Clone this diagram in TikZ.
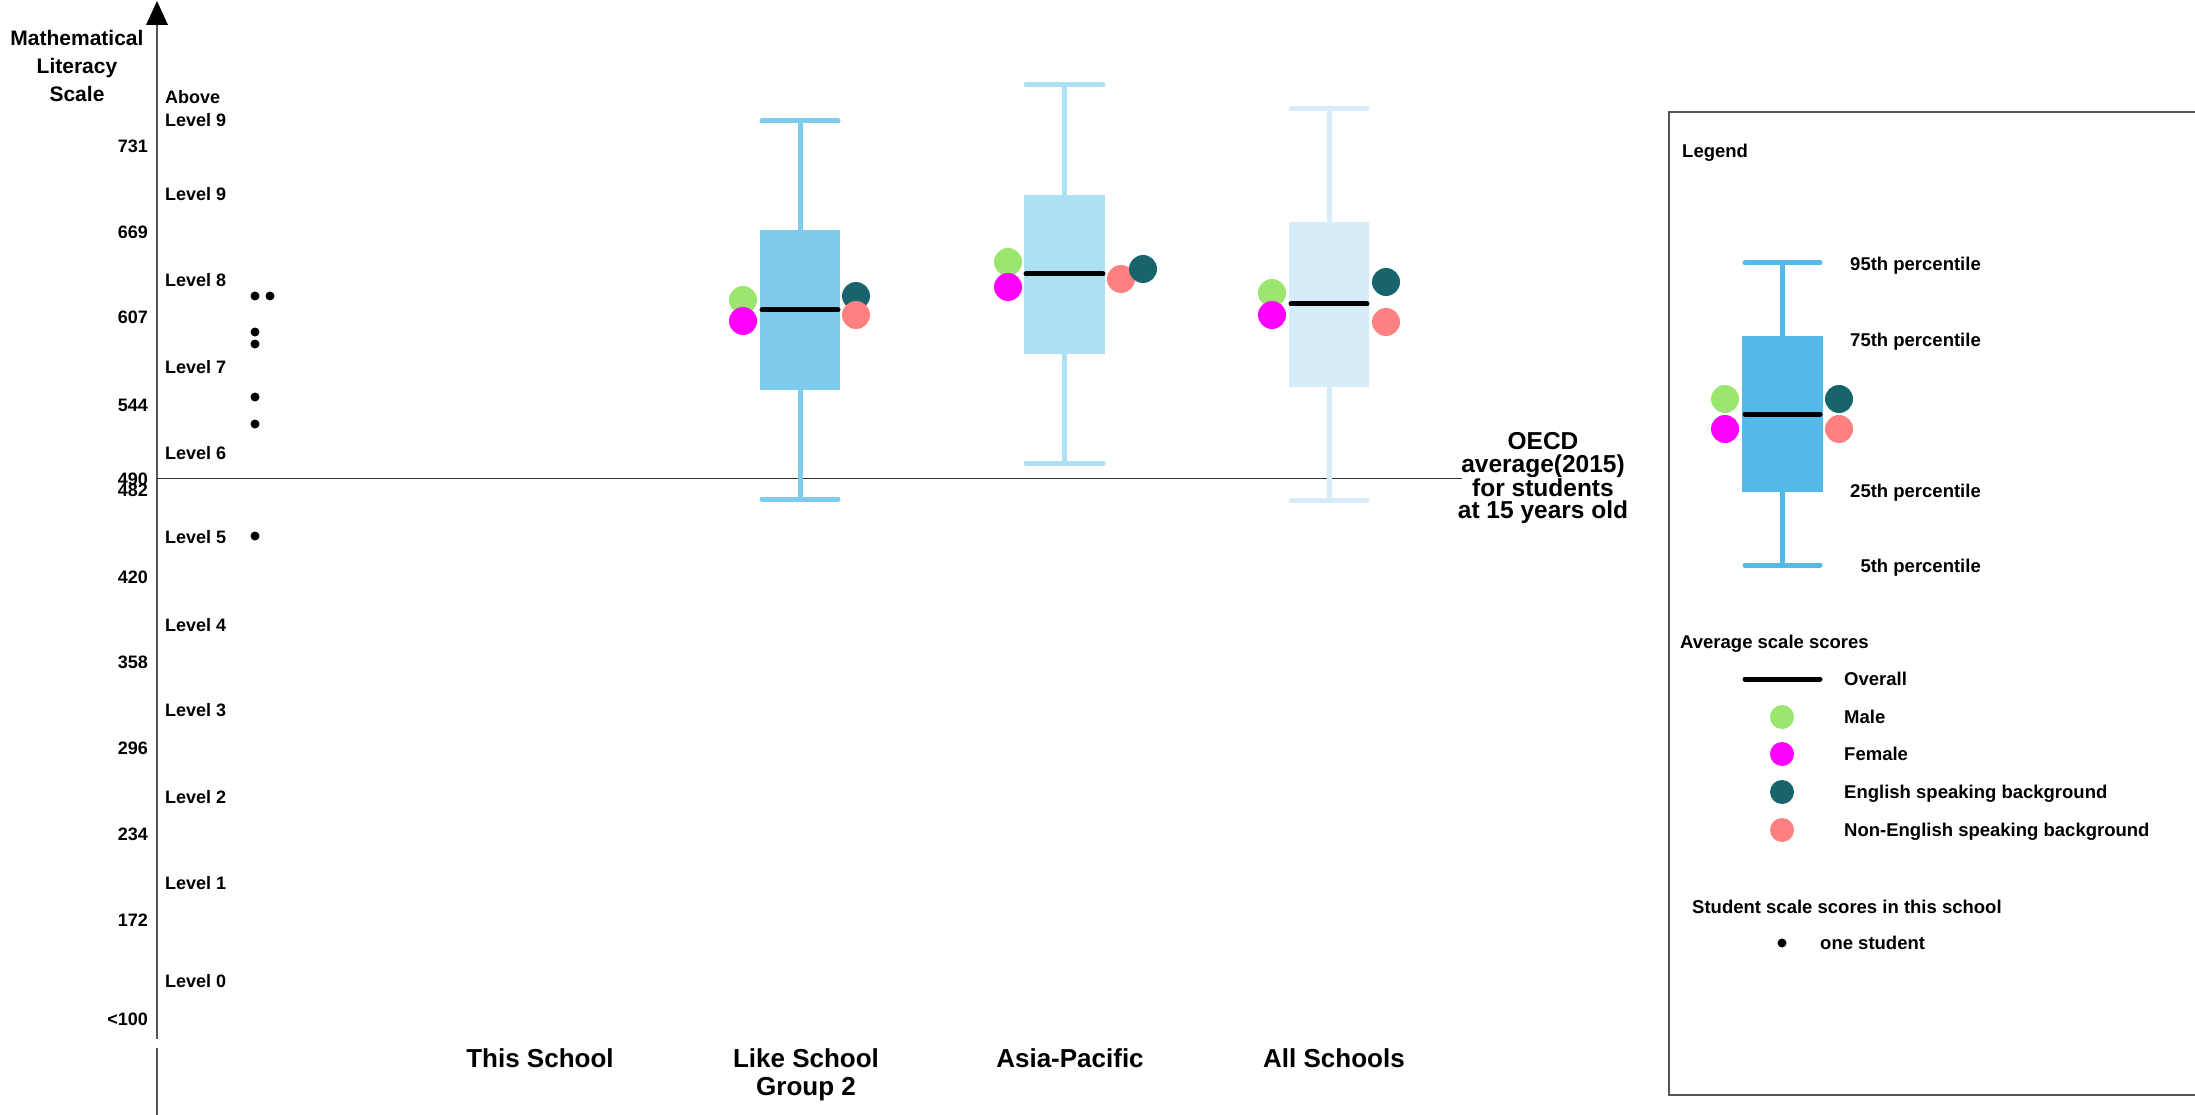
\documentclass[tikz,border=0pt]{standalone}
\usepackage{fontspec}
\setmainfont{Liberation Sans}
\definecolor{likec}{HTML}{7ECBEE}
\definecolor{asiac}{HTML}{ADDFF5}
\definecolor{allc}{HTML}{D6ECF9}
\definecolor{legc}{HTML}{53B9E8}
\definecolor{malec}{HTML}{9AE66E}
\definecolor{femc}{HTML}{FF00FF}
\definecolor{engc}{HTML}{18646B}
\definecolor{nengc}{HTML}{FF8080}
\definecolor{axc}{HTML}{555555}
\begin{document}
\begin{tikzpicture}[x=1pt,y=-1pt,
  axlbl/.style={font=\fontsize{18}{20}\selectfont\bfseries, inner sep=0pt, text height=13pt, text depth=0pt},
  leglbl/.style={font=\fontsize{18.5}{20}\selectfont\bfseries, inner sep=0pt, text height=13.2pt, text depth=0pt},
  catlbl/.style={font=\fontsize{26}{28}\selectfont\bfseries, inner sep=0pt, align=center},
  axisline/.style={draw=axc, line width=2pt},
  whisk/.style={line width=5pt},
  capline/.style={line width=5pt, line cap=round},
  medline/.style={line width=5pt, line cap=round, black},
  dotc/.style={fill=black}
]
\useasboundingbox (0,0) rectangle (2195,1115);
% axis
\coordinate (axtop) at (157,24);
\coordinate (axbot) at (157,1039);
\coordinate (ax2top) at (157,1048);
\coordinate (ax2bot) at (157,1115);
\draw[axisline] (axtop) -- (axbot);
\draw[axisline] (ax2top) -- (ax2bot);
\fill[black] (146,25) -- (157,1) -- (168,25) -- cycle;
\node[font=\fontsize{21}{28}\selectfont\bfseries, inner sep=0pt, align=center, anchor=north] (title) at (77,30) {Mathematical\\Literacy\\Scale};
% tick values
\node[axlbl, anchor=east] (t731) at (148,146) {731};
\node[axlbl, anchor=east] (t669) at (148,232) {669};
\node[axlbl, anchor=east] (t607) at (148,317) {607};
\node[axlbl, anchor=east] (t544) at (148,405) {544};
\node[axlbl, anchor=east] (t490) at (148,479) {490};
\node[axlbl, anchor=east] (t482) at (148,490) {482};
\node[axlbl, anchor=east] (t420) at (148,577) {420};
\node[axlbl, anchor=east] (t358) at (148,662) {358};
\node[axlbl, anchor=east] (t296) at (148,748) {296};
\node[axlbl, anchor=east] (t234) at (148,834) {234};
\node[axlbl, anchor=east] (t172) at (148,920) {172};
\node[axlbl, anchor=east] (t100) at (148,1019) {<100};
% levels
\node[font=\fontsize{18}{23}\selectfont\bfseries, inner sep=0pt, align=left, anchor=north west] (l10) at (165,90) {Above\\Level 9};
\node[axlbl, anchor=west] (l9) at (165,194) {Level 9};
\node[axlbl, anchor=west] (l8) at (165,280) {Level 8};
\node[axlbl, anchor=west] (l7) at (165,367) {Level 7};
\node[axlbl, anchor=west] (l6) at (165,453) {Level 6};
\node[axlbl, anchor=west] (l5) at (165,537) {Level 5};
\node[axlbl, anchor=west] (l4) at (165,625) {Level 4};
\node[axlbl, anchor=west] (l3) at (165,710) {Level 3};
\node[axlbl, anchor=west] (l2) at (165,797) {Level 2};
\node[axlbl, anchor=west] (l1) at (165,883) {Level 1};
\node[axlbl, anchor=west] (l0) at (165,981) {Level 0};
% OECD line
\coordinate (oecdA) at (157,478.5);
\coordinate (oecdB) at (1462,478.5);
\draw[draw=black!80, line width=1.5pt] (oecdA) -- (oecdB);
\node[font=\fontsize{24.5}{22.5}\selectfont\bfseries, inner sep=0pt, align=center, anchor=north] (oecd) at (1543,432.5) {OECD\\average(2015)\\for students\\at 15 years old};
% student dots
\fill[dotc] (255,296) circle (4.5);
\fill[dotc] (270,296) circle (4.5);
\fill[dotc] (255,332) circle (4.5);
\fill[dotc] (255,344) circle (4.5);
\fill[dotc] (255,397) circle (4.5);
\fill[dotc] (255,424) circle (4.5);
\fill[dotc] (255,536) circle (4.5);
% Like School Group 2
\draw[whisk, likec] (800,121) -- (800,499);
\draw[capline, likec] (762,121) -- (838,121);
\draw[capline, likec] (762,499) -- (838,499);
\fill[likec] (760,230) rectangle (840,390);
\draw[medline] (762,310) -- (838,310);
\fill[malec] (743,300) circle (14);
\fill[femc] (743,321) circle (14);
\fill[engc] (856,296) circle (14);
\fill[nengc] (856,315) circle (14);
% Asia-Pacific
\draw[whisk, asiac] (1064,85) -- (1064,463);
\draw[capline, asiac] (1026,85) -- (1103,85);
\draw[capline, asiac] (1026,463) -- (1103,463);
\fill[asiac] (1024,195) rectangle (1105,354);
\draw[medline] (1026,274) -- (1103,274);
\fill[malec] (1008,262) circle (14);
\fill[femc] (1008,287) circle (14);
\fill[nengc] (1121,279) circle (14);
\fill[engc] (1143,269) circle (14);
% All Schools
\draw[whisk, allc] (1329,109) -- (1329,500);
\draw[capline, allc] (1291,109) -- (1367,109);
\draw[capline, allc] (1291,500) -- (1367,500);
\fill[allc] (1289,222) rectangle (1369,387);
\draw[medline] (1291,304) -- (1367,304);
\fill[malec] (1272,293) circle (14);
\fill[femc] (1272,315) circle (14);
\fill[engc] (1386,282) circle (14);
\fill[nengc] (1386,322) circle (14);
% category labels
\node[catlbl, anchor=base] (cThis) at (540,1067) {This School};
\node[catlbl, anchor=north] (cLike) at (806,1048) {Like School\\Group 2};
\node[catlbl, anchor=base] (cAsia) at (1070,1067) {Asia-Pacific};
\node[catlbl, anchor=base] (cAll) at (1334,1067) {All Schools};
% legend
\draw[draw=axc, line width=2pt] (2230,112) -- (1669,112) -- (1669,1095) -- (2230,1095);
\node[leglbl, anchor=west] (legT) at (1682,151) {Legend};
\draw[whisk, legc] (1782,263) -- (1782,565);
\draw[capline, legc] (1745,263) -- (1820,263);
\draw[capline, legc] (1745,565) -- (1820,565);
\fill[legc] (1742,336) rectangle (1823,492);
\draw[medline] (1745,414) -- (1820,414);
\fill[malec] (1725,399) circle (14);
\fill[femc] (1725,429) circle (14);
\fill[engc] (1839,399) circle (14);
\fill[nengc] (1839,429) circle (14);
\node[leglbl, anchor=east] (p95) at (1981,264) {95th percentile};
\node[leglbl, anchor=east] (p75) at (1981,340) {75th percentile};
\node[leglbl, anchor=east] (p25) at (1981,491) {25th percentile};
\node[leglbl, anchor=east] (p5) at (1981,566) {5th percentile};
\node[leglbl, anchor=west] (avgT) at (1680,642) {Average scale scores};
\draw[medline] (1745,679) -- (1820,679);
\node[leglbl, anchor=west] (lOver) at (1844,679) {Overall};
\fill[malec] (1782,717) circle (12);
\node[leglbl, anchor=west] (lMale) at (1844,717) {Male};
\fill[femc] (1782,754) circle (12);
\node[leglbl, anchor=west] (lFem) at (1844,754) {Female};
\fill[engc] (1782,792) circle (12);
\node[leglbl, anchor=west] (lEng) at (1844,792) {English speaking background};
\fill[nengc] (1782,830) circle (12);
\node[leglbl, anchor=west] (lNEng) at (1844,830) {Non-English speaking background};
\node[leglbl, anchor=west] (stuT) at (1692,907) {Student scale scores in this school};
\fill[dotc] (1782,943) circle (4.5);
\node[leglbl, anchor=west] (lOne) at (1820,943) {one student};
\end{tikzpicture}
\end{document}
